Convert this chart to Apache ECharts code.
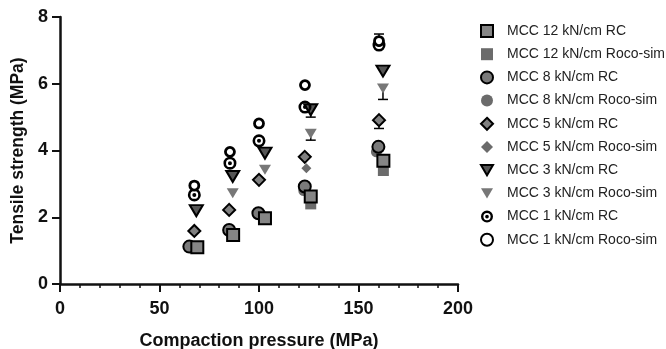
<!DOCTYPE html>
<html><head><meta charset="utf-8">
<script src="https://cdn.jsdelivr.net/npm/echarts@6/dist/echarts.min.js"></script>
<style>html,body{margin:0;padding:0;background:#fff}#c{width:666px;height:349px}</style>
</head><body><div id="c"></div>
<script>
// ---- data ----
const seriesNames = ['MCC 12 kN/cm RC','MCC 12 kN/cm Roco-sim','MCC 8 kN/cm RC','MCC 8 kN/cm Roco-sim','MCC 5 kN/cm RC','MCC 5 kN/cm Roco-sim','MCC 3 kN/cm RC','MCC 3 kN/cm Roco-sim','MCC 1 kN/cm RC','MCC 1 kN/cm Roco-sim'];
const mcc12RC_x = [69, 87, 103, 126, 162.5];
const mcc12RC_y = [1.10, 1.47, 1.97, 2.62, 3.69];
const mcc12Sim_x = [126, 162.5];
const mcc12Sim_y = [2.40, 3.40];
const mcc8RC_x = [65, 85, 99.7, 123, 160];
const mcc8RC_y = [1.12, 1.62, 2.12, 2.92, 4.11];
const mcc8Sim_x = [122.5, 159];
const mcc8Sim_y = [2.80, 3.96];
const mcc5RC_x = [67.5, 85, 100, 123, 160.3];
const mcc5RC_y = [1.59, 2.22, 3.12, 3.81, 4.91];
const mcc5Sim_x = [123.8, 160.3];
const mcc5Sim_y = [3.47, 4.85];
const mcc3RC_x = [68.5, 86.8, 103, 126, 162.3];
const mcc3RC_y = [2.20, 3.22, 3.92, 5.22, 6.38];
const mcc3Sim_x = [86.8, 103, 126, 162.3];
const mcc3Sim_y = [2.72, 3.42, 4.50, 5.86];
const mcc1RC_x = [67.5, 85.4, 100, 123.1, 160.3];
const mcc1RC_y = [2.67, 3.62, 4.29, 5.30, 7.16];
const mcc1Sim_x = [67.5, 85.4, 100, 123.1, 160.3];
const mcc1Sim_y = [2.95, 3.96, 4.81, 5.96, 7.28];
// error bars: x, value, bar end
const err_x = [126, 126, 160.3, 162.3, 160.3];
const err_y = [5.22, 4.50, 7.16, 5.86, 4.91];
const err_end = [5.00, 4.31, 7.49, 5.53, 4.66];
const xTicks = [0, 50, 100, 150, 200];
const yTicks = [0, 2, 4, 6, 8];

// ---- build ----
const pts = (xs, ys) => xs.map((x, i) => [x, ys[i]]);
const FONT = "'Liberation Sans', Arial, Helvetica, sans-serif";
const triDown = 'path://M0,0 L20,0 L10,17 Z';
const bullseye = 'path://M12,0 A12,12 0 1,1 12,24 A12,12 0 1,1 12,0 Z M12,4.8 A7.2,7.2 0 1,0 12,19.2 A7.2,7.2 0 1,0 12,4.8 Z M12,8.3 A3.7,3.7 0 1,1 12,15.7 A3.7,3.7 0 1,1 12,8.3 Z';

function sc(name, data, symbol, size, fill, border, bw, z) {
  return {
    type: 'scatter', name: name, data: data, symbol: symbol, symbolSize: size, z: z,
    itemStyle: { color: fill, borderColor: border, borderWidth: bw, opacity: 1 },
    emphasis: { disabled: true }
  };
}

const errData = err_x.map((x, i) => [x, err_y[i], err_end[i]]);

const option = {
  animation: false,
  backgroundColor: '#fff',
  textStyle: { fontFamily: FONT },
  grid: { left: 60, right: 208, top: 17, bottom: 65, containLabel: false, outerBoundsMode: 'none' },
  xAxis: {
    type: 'value', min: xTicks[0], max: xTicks[xTicks.length - 1], interval: 50,
    name: 'Compaction pressure (MPa)', nameLocation: 'middle', nameGap: 48,
    nameTextStyle: { fontSize: 18, fontWeight: 'bold', color: '#111', fontFamily: FONT },
    axisLine: { lineStyle: { color: '#111', width: 2.5 } },
    axisTick: { length: 8, lineStyle: { color: '#111', width: 2 } },
    minorTick: { show: true, splitNumber: 5, length: 4, lineStyle: { color: '#111', width: 1.5 } },
    axisLabel: { fontSize: 18, fontWeight: 'bold', color: '#111', margin: 16, fontFamily: FONT },
    splitLine: { show: false }
  },
  yAxis: {
    type: 'value', min: yTicks[0], max: yTicks[yTicks.length - 1], interval: 2,
    name: 'Tensile strength (MPa)', nameLocation: 'middle', nameGap: 28,
    nameTextStyle: { fontSize: 17.5, fontWeight: 'bold', color: '#111', fontFamily: FONT },
    axisLine: { show: true, lineStyle: { color: '#111', width: 2.5 } },
    axisTick: { show: true, length: 8, lineStyle: { color: '#111', width: 2 } },
    axisLabel: { fontSize: 18, fontWeight: 'bold', color: '#111', margin: 12, fontFamily: FONT },
    splitLine: { show: false }
  },
  legend: {
    orient: 'vertical', left: 480, top: 24, padding: 0,
    itemWidth: 12, itemHeight: 12, itemGap: 9.2,
    textStyle: { fontSize: 14, color: '#222', fontFamily: FONT, padding: [0, 0, 0, 9] },
    data: seriesNames,
    selectedMode: false
  },
  series: [
    sc(seriesNames[0], pts(mcc12RC_x, mcc12RC_y), 'rect', 12, '#858585', '#000', 2, 5),
    sc(seriesNames[1], pts(mcc12Sim_x, mcc12Sim_y), 'rect', 11, '#6b6b6b', '#6b6b6b', 0, 3),
    sc(seriesNames[2], pts(mcc8RC_x, mcc8RC_y), 'circle', 12, '#7a7a7a', '#000', 2, 4),
    sc(seriesNames[3], pts(mcc8Sim_x, mcc8Sim_y), 'circle', 11, '#6b6b6b', '#6b6b6b', 0, 3),
    sc(seriesNames[4], pts(mcc5RC_x, mcc5RC_y), 'diamond', 12, '#808080', '#000', 2, 5),
    sc(seriesNames[5], pts(mcc5Sim_x, mcc5Sim_y), 'diamond', 10, '#6b6b6b', '#6b6b6b', 0, 3),
    sc(seriesNames[6], pts(mcc3RC_x, mcc3RC_y), triDown, [13, 11], '#555', '#000', 2, 5),
    sc(seriesNames[7], pts(mcc3Sim_x, mcc3Sim_y), triDown, [12, 10], '#777', '#777', 0, 3),
    sc(seriesNames[8], pts(mcc1RC_x, mcc1RC_y), bullseye, 13, '#000', '#000', 0, 6),
    sc(seriesNames[9], pts(mcc1Sim_x, mcc1Sim_y), 'circle', 9, '#fff', '#000', 2.8, 6),
    {
      type: 'custom', name: 'err', z: 2, silent: true,
      data: errData,
      renderItem: function (params, api) {
        const p0 = api.coord([api.value(0), api.value(1)]);
        const p1 = api.coord([api.value(0), api.value(2)]);
        return {
          type: 'group',
          children: [
            { type: 'line', shape: { x1: p0[0], y1: p0[1], x2: p1[0], y2: p1[1] }, style: { stroke: '#000', lineWidth: 1.5 } },
            { type: 'line', shape: { x1: p1[0] - 5, y1: p1[1], x2: p1[0] + 5, y2: p1[1] }, style: { stroke: '#000', lineWidth: 1.5 } }
          ]
        };
      }
    }
  ]
};
const chart = echarts.init(document.getElementById('c'), null, { renderer: 'canvas' });
chart.setOption(option);
</script></body></html>
